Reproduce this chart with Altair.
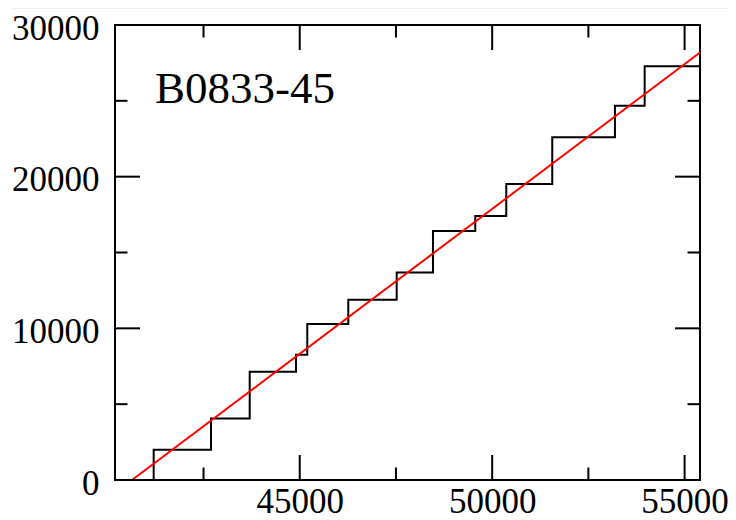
import altair as alt
import pandas as pd

# Staircase (cumulative) data
step_x = [41205, 41205, 42694, 43700, 44903, 45196, 46261, 47519, 48462,
          49561, 50366, 51561, 53190, 53962, 55400]
step_y = [0, 2000, 4060, 7140, 8260, 10280, 11880, 13680, 16410,
          17410, 19520, 22600, 24680, 27280, 27280]

# Linear fit (red)
fit_x = [40642, 55400]
fit_y = [0, 28190]

# Tick values
x_major = [45000, 50000, 55000]
x_minor = [42500, 47500, 52500]
y_major = [0, 10000, 20000, 30000]
y_minor = [5000, 15000, 25000]

label_text = ["B0833-45"]
label_x = [41239]
label_y = [24880]

W, H = 585, 455
FONT = "Liberation Serif"

xsc = alt.Scale(domain=[40200, 55400], nice=False, zero=False)
ysc = alt.Scale(domain=[0, 30000], nice=False, zero=False)

xaxis = alt.Axis(values=x_major, format="d", title=None, grid=False, ticks=False,
                 domain=False, labelFont=FONT, labelFontSize=35, labelColor="black",
                 labelPadding=4, labelFlush=False, labelOverlap=False, labelBound=False)
yaxis = alt.Axis(values=y_major, format="d", title=None, grid=False, ticks=False,
                 domain=False, labelFont=FONT, labelFontSize=35, labelColor="black",
                 labelPadding=16, labelOffset=3, labelFlush=False, labelOverlap=False,
                 labelBound=False)

step_df = pd.DataFrame({"x": step_x, "y": step_y, "i": list(range(len(step_x)))})
fit_df = pd.DataFrame({"x": fit_x, "y": fit_y})

steps = alt.Chart(step_df).mark_line(interpolate="step-after", color="black",
                                     strokeWidth=2).encode(
    x=alt.X("x:Q", scale=xsc, axis=xaxis),
    y=alt.Y("y:Q", scale=ysc, axis=yaxis),
    order=alt.Order("i:Q"),
)

fit = alt.Chart(fit_df).mark_line(color="#ff0000", strokeWidth=2).encode(
    x=alt.X("x:Q", scale=xsc),
    y=alt.Y("y:Q", scale=ysc),
)

label = alt.Chart(pd.DataFrame({"x": label_x, "y": label_y, "t": label_text})).mark_text(
    font=FONT, fontSize=45, align="left", baseline="alphabetic", color="black"
).encode(
    x=alt.X("x:Q", scale=xsc),
    y=alt.Y("y:Q", scale=ysc),
    text="t:N",
)

def xticks(vals, length, top):
    df = pd.DataFrame({"v": vals})
    if top:
        yy, yy2 = alt.value(0), alt.value(length)
    else:
        yy, yy2 = alt.value(H), alt.value(H - length)
    return alt.Chart(df).mark_rule(color="black", strokeWidth=2).encode(
        x=alt.X("v:Q", scale=xsc), y=yy, y2=yy2)

def yticks(vals, length, right):
    df = pd.DataFrame({"v": vals})
    if right:
        xx, xx2 = alt.value(W), alt.value(W - length)
    else:
        xx, xx2 = alt.value(0), alt.value(length)
    return alt.Chart(df).mark_rule(color="black", strokeWidth=2).encode(
        y=alt.Y("v:Q", scale=ysc), x=xx, x2=xx2)

MAJ, MIN = 25, 12.5
ticks = [
    xticks(x_major, MAJ, False), xticks(x_minor, MIN, False),
    xticks(x_major, MAJ, True), xticks(x_minor, MIN, True),
    yticks(y_major, MAJ, False), yticks(y_minor, MIN, False),
    yticks(y_major, MAJ, True), yticks(y_minor, MIN, True),
]

topline = alt.Chart(pd.DataFrame({"a": [0]})).mark_rule(color="#c4c4c4", strokeWidth=1.5).encode(
    x=alt.value(-103), x2=alt.value(613), y=alt.value(-17.5)
)

chart = alt.layer(steps, fit, label, *ticks, topline).properties(
    width=W, height=H,
    autosize=alt.AutoSizeParams(type="none"),
    padding={"left": 107, "top": 17, "right": 28, "bottom": 40},
    background="white",
).configure_view(stroke="black", strokeWidth=2)

chart.save("out.html", embed_options={"renderer": "svg", "actions": False})
